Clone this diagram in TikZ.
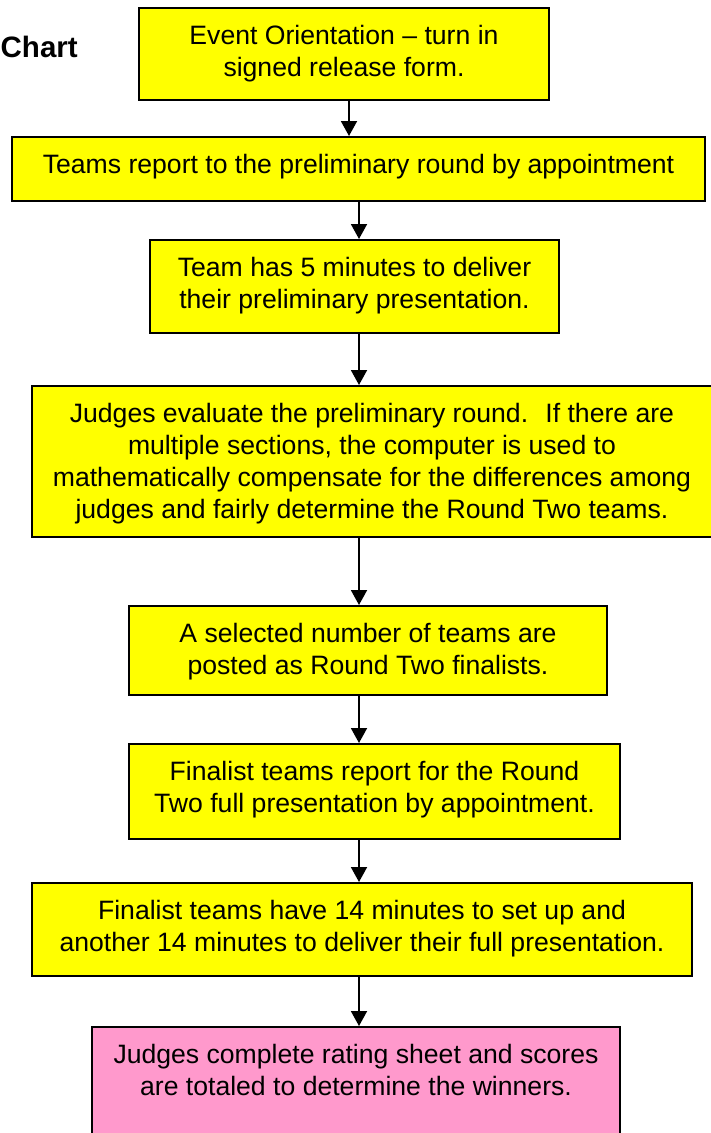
\documentclass[tikz,border=0pt]{standalone}
\usepackage{fontspec}
\setmainfont{Liberation Sans}
\usetikzlibrary{arrows.meta}
\definecolor{boxyellow}{HTML}{FFFF00}
\definecolor{boxpink}{HTML}{FF99CC}
\newcommand{\bxt}[3]{\parbox[c][#2pt][t]{#1pt}{\centering\rule{0pt}{36pt}#3}}
\begin{document}
\begin{tikzpicture}[x=1pt,y=-1pt,
  flowbox/.style={draw=black, line width=2pt, fill=boxyellow, inner sep=0pt, anchor=north west,
    font=\fontsize{26.6}{32}\selectfont},
  endbox/.style={flowbox, fill=boxpink},
  arr/.style={line width=1.9pt, -{Triangle[length=15pt,width=16pt]}}]
\path[use as bounding box, fill=white] (0,0) rectangle (710,1133);

\node[font=\bfseries\fontsize{29.5}{35}\selectfont, anchor=base west, inner sep=0pt] (title) at (0.5,57) {Chart};

\node[flowbox] (B1) at (138,7) {\bxt{410}{92}{Event Orientation -- turn in\\ signed release form.}};
\node[flowbox] (B2) at (11,136) {\bxt{693}{64}{Teams report to the preliminary round by appointment}};
\node[flowbox] (B3) at (149,239) {\bxt{409}{93}{Team has 5 minutes to deliver\\ their preliminary presentation.}};
\node[flowbox] (B4) at (31,385) {\bxt{680}{151}{Judges evaluate the preliminary round.~ If there are\\ multiple sections, the computer is used to\\ mathematically compensate for the differences among\\ judges and fairly determine the Round Two teams.}};
\node[flowbox] (B5) at (128,605) {\bxt{478}{89}{A selected number of teams are\\ posted as Round Two finalists.}};
\node[flowbox] (B6) at (128,743) {\bxt{491}{95}{Finalist teams report for the Round\\ Two full presentation by appointment.}};
\node[flowbox] (B7) at (31,882) {\bxt{660}{93}{Finalist teams have 14 minutes to set up and\\ another 14 minutes to deliver their full presentation.}};
\node[endbox] (B8) at (91,1026) {\bxt{528}{114}{Judges complete rating sheet and scores\\ are totaled to determine the winners.}};

\coordinate (ax1) at (349,0);
\coordinate (ax2) at (359,0);

\draw[arr] (B1.south -| ax1) -- (B2.north -| ax1);
\draw[arr] (B2.south -| ax2) -- (B3.north -| ax2);
\draw[arr] (B3.south -| ax2) -- (B4.north -| ax2);
\draw[arr] (B4.south -| ax2) -- (B5.north -| ax2);
\draw[arr] (B5.south -| ax2) -- (B6.north -| ax2);
\draw[arr] (B6.south -| ax2) -- (B7.north -| ax2);
\draw[arr] (B7.south -| ax2) -- (B8.north -| ax2);
\end{tikzpicture}
\end{document}
